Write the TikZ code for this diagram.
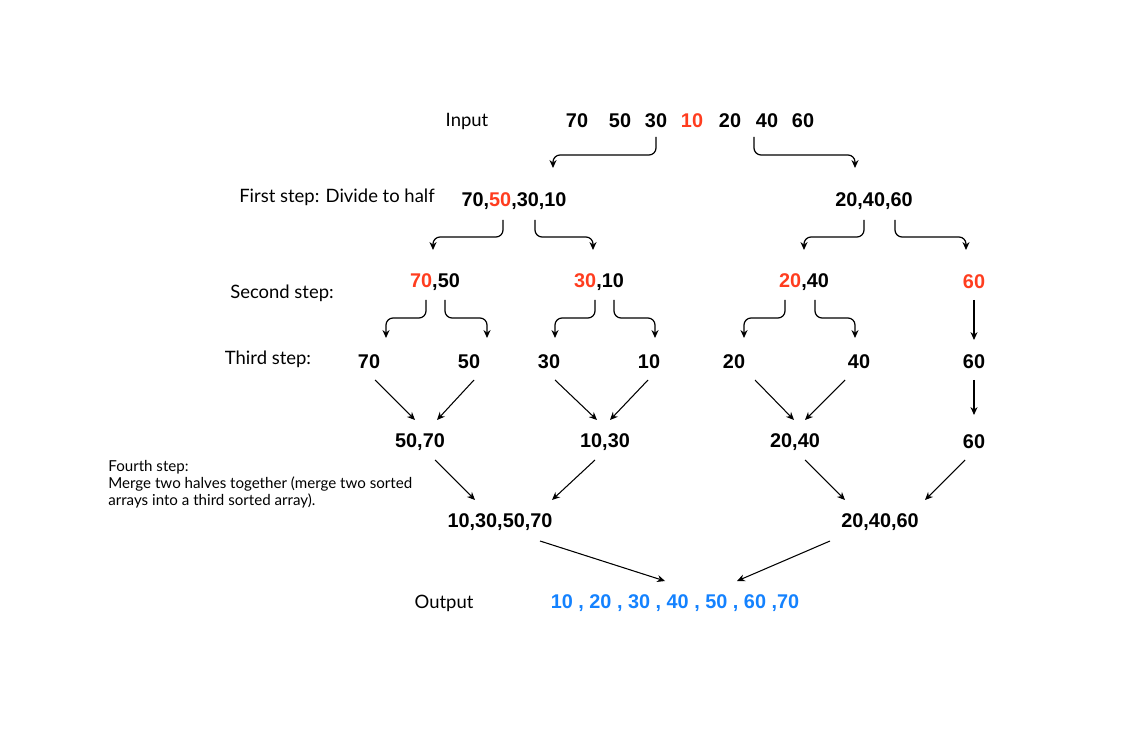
\documentclass[tikz,border=0pt]{standalone}
\usepackage{fontspec}
\setmainfont{Liberation Sans}
\newfontfamily\handfont{Lato}
\usetikzlibrary{arrows.meta,calc}
\definecolor{hot}{RGB}{255,61,31}
\definecolor{sky}{RGB}{20,130,255}
\tikzset{
  num/.style={font=\fontsize{11.3}{13}\selectfont\bfseries, inner sep=0pt},
  lab/.style={font=\handfont\fontsize{10.5}{12}\selectfont, inner sep=0pt},
  arr/.style={-{Stealth[length=4.5pt,width=4pt]}, line width=0.6pt},
  elbow/.style={arr, line width=0.7pt, rounded corners=4pt},
}
\begin{document}
\begin{tikzpicture}[x=0.02cm,y=-0.02cm]
    \useasboundingbox (0,0) rectangle (1145,749);
    % labels on the left
    \node[lab] (inlab) at (467,121) {Input};
    \node[lab] (lab1) at (337,197) {First step: Divide to half};
    \node[lab] (lab2) at (282,293) {Second step:};
    \node[lab] (lab3) at (268,359) {Third step:};
    \node[lab, anchor=west, align=left, font=\handfont\fontsize{8.6}{9.7}\selectfont] (lab4) at (108,484)
        {Fourth step:\\Merge two halves together (merge two sorted\\arrays into a third sorted array).};
    \node[lab] (outlab) at (444,603) {Output};
    % input
    \foreach \v/\x in {70/577,50/620,30/656,20/730,40/767,60/803}
        \node[num] (i\v) at (\x,121) {\v};
    \node[num, text=hot] (i10) at (692,121) {10};
    % divide
    \node[num] (a1) at (514,201) {70,\textcolor{hot}{50},30,10};
    \node[num] (a2) at (874,201) {20,40,60};
    \node[num] (b1) at (435,282) {\textcolor{hot}{70},50};
    \node[num] (b2) at (599,282) {\textcolor{hot}{30},10};
    \node[num] (b3) at (804,282) {\textcolor{hot}{20},40};
    \node[num, text=hot] (b4) at (974,282) {60};
    \foreach \n/\v/\x in {c1/70/369,c2/50/469,c3/30/549,c4/10/649,c5/20/734,c6/40/859,c7/60/974}
        \node[num] (\n) at (\x,362) {\v};
    % merge
    \node[num] (d1) at (420,442) {50,70};
    \node[num] (d2) at (605,442) {10,30};
    \node[num] (d3) at (795,442) {20,40};
    \node[num] (d4) at (974,442) {60};
    \node[num] (e1) at (500,522) {10,30,50,70};
    \node[num] (e2) at (880,522) {20,40,60};
    \node[num, text=sky] (out) at (675,603) {10 , 20 , 30 , 40 , 50 , 60 ,70};

    \draw[elbow] ($(i30)+(0,16)$) -- ++(0,18) -| ($(a1)+(39,-33)$);
    \draw[elbow] ($(i20)+(24,16)$) -- ++(0,18) -| ($(a2)+(-19,-33)$);
    \draw[elbow] ($(a1)+(-11,19)$) -- ++(0,17) -| ($(b1)+(-2,-32)$);
    \draw[elbow] ($(a1)+(21,19)$) -- ++(0,17) -| ($(b2)+(-6,-32)$);
    \draw[elbow] ($(a2)+(-10,19)$) -- ++(0,17) -| ($(b3)+(0,-32)$);
    \draw[elbow] ($(a2)+(21,19)$) -- ++(0,17) -| ($(b4)+(-8,-32)$);
    \draw[elbow] ($(b1)+(-9,18)$) -- ++(0,18) -| ($(c1)+(17,-24)$);
    \draw[elbow] ($(b1)+(10,18)$) -- ++(0,18) -| ($(c2)+(18,-24)$);
    \draw[elbow] ($(b2)+(-4,18)$) -- ++(0,18) -| ($(c3)+(6,-24)$);
    \draw[elbow] ($(b2)+(15,18)$) -- ++(0,18) -| ($(c4)+(6,-24)$);
    \draw[elbow] ($(b3)+(-19,18)$) -- ++(0,18) -| ($(c5)+(10,-24)$);
    \draw[elbow] ($(b3)+(11,18)$) -- ++(0,18) -| ($(c6)+(-4,-24)$);
    \draw[arr] ($(b4)+(0,18)$) -- ($(c7)+(0,-22)$);

    \draw[arr] ($(c1)+(6,18)$) -- ($(d1)+(-5,-22)$);
    \draw[arr] ($(c2)+(5,18)$) -- ($(d1)+(17,-22)$);
    \draw[arr] ($(c3)+(6,18)$) -- ($(d2)+(-8,-22)$);
    \draw[arr] ($(c4)+(-1,18)$) -- ($(d2)+(5,-22)$);
    \draw[arr] ($(c5)+(21,18)$) -- ($(d3)+(-1,-22)$);
    \draw[arr] ($(c6)+(-14,18)$) -- ($(d3)+(10,-22)$);
    \draw[arr] ($(c7)+(0,18)$) -- ($(d4)+(0,-27)$);
    \draw[arr] ($(d1)+(15,18)$) -- ($(e1)+(-25,-22)$);
    \draw[arr] ($(d2)+(-10,18)$) -- ($(e1)+(52,-22)$);
    \draw[arr] ($(d3)+(10,18)$) -- ($(e2)+(-35,-22)$);
    \draw[arr] ($(d4)+(-9,18)$) -- ($(e2)+(45,-22)$);
    \draw[arr] ($(e1)+(40,19)$) -- ($(out)+(-10,-22)$);
    \draw[arr] ($(e2)+(-50,19)$) -- ($(out)+(62,-22)$);
\end{tikzpicture}
\end{document}
